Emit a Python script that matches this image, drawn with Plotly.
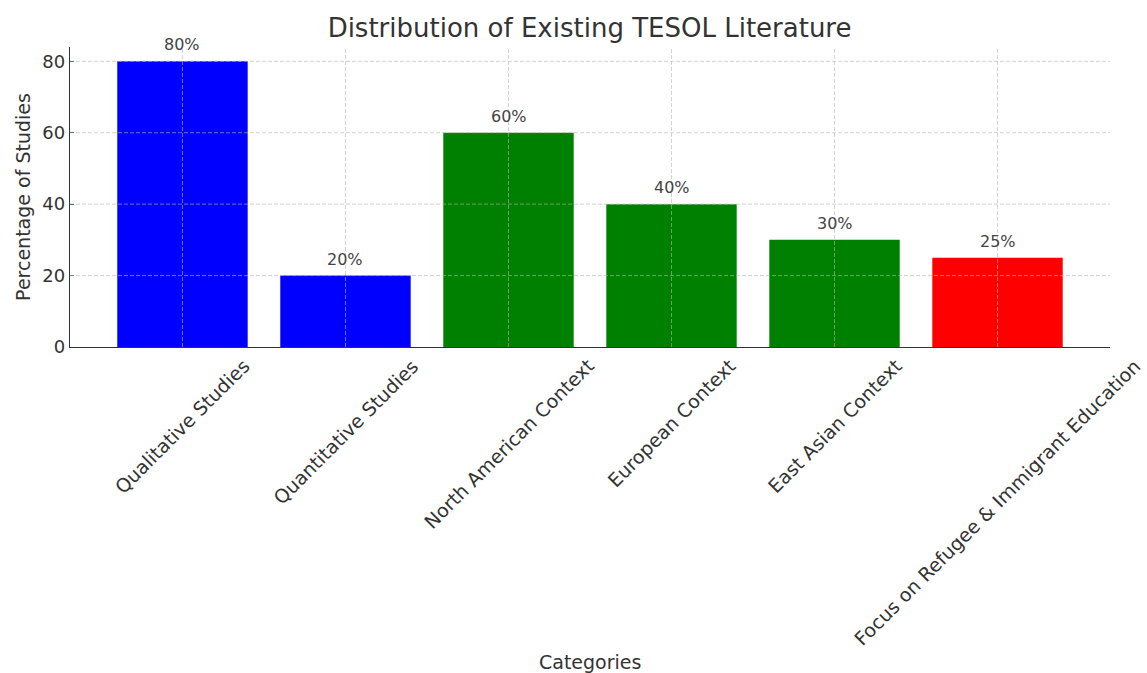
import plotly.graph_objects as go

categories = ["Qualitative Studies", "Quantitative Studies", "North American Context",
              "European Context", "East Asian Context", "Focus on Refugee & Immigrant Education"]
values = [80, 20, 60, 40, 30, 25]
colors = ["#0000FF", "#0000FF", "#008000", "#008000", "#008000", "#FF0000"]
y_ticks = [0, 20, 40, 60, 80]

FONT = "DejaVu Sans"
TXT = "#333333"
fig = go.Figure()
fig.add_trace(go.Bar(x=list(range(len(categories))), y=values, marker_color=colors,
                     marker_line_width=0, width=0.8, showlegend=False))

for i, v in enumerate(values):
    fig.add_annotation(x=i, y=v, text=f"{v}%", showarrow=False, yanchor="bottom",
                       yshift=5, font=dict(family=FONT, size=16, color="#444"))

# rotated category labels, centred on their ticks
for i, c in enumerate(categories):
    fig.add_annotation(x=i, xref="x", y=0, yref="paper", text=c, textangle=-45,
                       showarrow=False, xanchor="center", yanchor="top", yshift=-5,
                       font=dict(family=FONT, size=19, color=TXT))

fig.add_annotation(x=0.5, xref="paper", y=-1.05, yref="paper", text="Categories",
                   showarrow=False, xanchor="center", yanchor="middle",
                   font=dict(family=FONT, size=19, color=TXT))

grid = dict(color="rgba(180,180,180,0.6)", width=1, dash="4px,2px")
for i in range(len(categories)):
    fig.add_shape(type="line", xref="x", yref="paper", x0=i, x1=i, y0=0, y1=1,
                  line=grid, layer="above")
for t in y_ticks[1:]:
    fig.add_shape(type="line", xref="paper", yref="y", x0=0, x1=1, y0=t, y1=t,
                  line=grid, layer="above")

fig.update_layout(
    width=1147, height=673,
    margin=dict(l=70, r=37, t=47, b=326),
    plot_bgcolor="white", paper_bgcolor="white",
    font=dict(family=FONT, color=TXT),
    title=dict(text="Distribution of Existing TESOL Literature", x=0.514, xanchor="center",
               y=0.958, yanchor="middle", font=dict(family=FONT, size=26, color=TXT)),
)
fig.update_xaxes(
    range=[-0.69, 5.69], tickmode="array", tickvals=list(range(len(categories))),
    showticklabels=False, showgrid=False, showline=True, linecolor=TXT, linewidth=1.3,
    ticks="inside", ticklen=4, tickcolor=TXT, zeroline=False, layer="above traces",
)
fig.update_yaxes(
    range=[0, 84], tickmode="array", tickvals=y_ticks,
    tickfont=dict(family=FONT, size=18, color=TXT),
    showgrid=False, showline=True, linecolor=TXT, linewidth=1.3,
    ticks="inside", ticklen=4, tickcolor=TXT, zeroline=False, layer="above traces",
    title=dict(text="Percentage of Studies", font=dict(family=FONT, size=19, color=TXT), standoff=6),
)
fig.write_html("out.html")
